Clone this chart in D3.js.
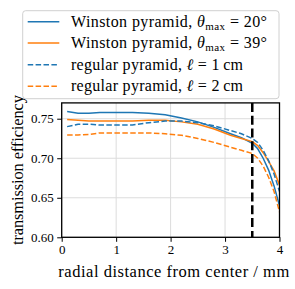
<!DOCTYPE html>
<html><head><meta charset="utf-8">
<script src="https://cdn.jsdelivr.net/npm/d3@7"></script>
<style>body{margin:0;background:#fff}svg{display:block}</style>
</head><body>
<script>
const xs = [0.1, 0.3, 0.5, 0.7, 1.0, 1.3, 1.6, 1.9, 2.2, 2.5, 2.8, 3.1, 3.3, 3.5, 3.6, 3.7, 3.8, 3.9, 4.0];
const winston20 = [0.759, 0.757, 0.757, 0.758, 0.758, 0.758, 0.757, 0.755, 0.751, 0.746, 0.739, 0.731, 0.726, 0.719, 0.712, 0.700, 0.685, 0.665, 0.640];
const winston39 = [0.749, 0.748, 0.747, 0.747, 0.747, 0.747, 0.748, 0.748, 0.746, 0.743, 0.737, 0.729, 0.725, 0.721, 0.716, 0.707, 0.696, 0.684, 0.666];
const regular1 = [0.740, 0.743, 0.743, 0.742, 0.742, 0.742, 0.745, 0.747, 0.747, 0.745, 0.741, 0.735, 0.731, 0.725, 0.720, 0.710, 0.697, 0.680, 0.658];
const regular2 = [0.7295, 0.7295, 0.730, 0.732, 0.732, 0.732, 0.732, 0.731, 0.729, 0.725, 0.720, 0.714, 0.710, 0.706, 0.700, 0.690, 0.676, 0.658, 0.632];
const xTicks = [0, 1, 2, 3, 4];
const yTicks = [0.60, 0.65, 0.70, 0.75];
const cutoff = 3.5;

const W = 295, H = 289;
const svg = d3.select("body").append("svg").attr("width", W).attr("height", H);
const font = "'Liberation Serif', serif";
const x = d3.scaleLinear().domain([0, 4]).range([61.7, 279.5]);
const y = d3.scaleLinear().domain([0.60, 0.77]).range([237.3, 102.9]);

// grid
const g = svg.append("g");
g.selectAll(".gx").data(xTicks).enter().append("line")
  .attr("x1", d => x(d)).attr("x2", d => x(d)).attr("y1", y(0.77)).attr("y2", y(0.6))
  .attr("stroke", "#dcdcdc").attr("stroke-width", 1);
g.selectAll(".gy").data(yTicks).enter().append("line")
  .attr("x1", x(0)).attr("x2", x(4)).attr("y1", d => y(d)).attr("y2", d => y(d))
  .attr("stroke", "#dcdcdc").attr("stroke-width", 1);

const series = [
  {v: winston20, c: "#1f77b4", dash: null},
  {v: winston39, c: "#ff7f0e", dash: null},
  {v: regular1, c: "#1f77b4", dash: "5.5,2.4"},
  {v: regular2, c: "#ff7f0e", dash: "5.5,2.4"}
];
const clip = svg.append("clipPath").attr("id", "c").append("rect")
  .attr("x", x(0)).attr("y", y(0.77)).attr("width", x(4) - x(0)).attr("height", y(0.6) - y(0.77));
const line = d3.line().x((d, i) => x(xs[i])).y(d => y(d));
const pg = svg.append("g").attr("clip-path", "url(#c)");
series.forEach(s => {
  pg.append("path").attr("d", line(s.v)).attr("fill", "none").attr("stroke", s.c)
    .attr("stroke-width", 1.5).attr("stroke-dasharray", s.dash);
});
pg.append("line").attr("x1", x(cutoff)).attr("x2", x(cutoff)).attr("y1", y(0.77)).attr("y2", y(0.6))
  .attr("stroke", "#000").attr("stroke-width", 2.5).attr("stroke-dasharray", "9,3.8");

// axes
const xa = svg.append("g").attr("transform", `translate(0,${y(0.6)})`)
  .call(d3.axisBottom(x).tickValues(xTicks).tickFormat(d3.format("d")).tickSize(4.5).tickPadding(3));
const ya = svg.append("g").attr("transform", `translate(${x(0)},0)`)
  .call(d3.axisLeft(y).tickValues(yTicks).tickFormat(d3.format(".2f")).tickSize(4.5).tickPadding(3.5));
[xa, ya].forEach(a => {
  a.select(".domain").remove();
  a.selectAll("line").attr("stroke", "#000").attr("stroke-width", 1);
  a.selectAll("text").attr("font-family", font).attr("font-size", 13).attr("fill", "#000");
});
// spines
svg.append("rect").attr("x", x(0)).attr("y", y(0.77)).attr("width", x(4) - x(0)).attr("height", y(0.6) - y(0.77))
  .attr("fill", "none").attr("stroke", "#000").attr("stroke-width", 1.3);

svg.append("text").attr("x", 58.3).attr("y", 277)
  .attr("textLength", 231).attr("lengthAdjust", "spacing")
  .attr("font-family", font).attr("font-size", 16.5).text("radial distance from center / mm");
svg.append("text").attr("transform", `translate(23,245) rotate(-90)`)
  .attr("textLength", 150).attr("lengthAdjust", "spacing")
  .attr("font-family", font).attr("font-size", 16.5).text("transmission efficiency");

// legend
const lg = svg.append("g");
lg.append("rect").attr("x", 22.7).attr("y", 10.7).attr("width", 256.3).attr("height", 88)
  .attr("rx", 3).attr("fill", "#fff").attr("fill-opacity", 0.85).attr("stroke", "#d0d0d0").attr("stroke-width", 1);
const rows = [21.7, 42.9, 64.8, 86.2];
const widths = [196, 196, 172, 172];
const labels = [
  {pre: "Winston pyramid, ", sym: "θ", sub: "max", post: " = 20°"},
  {pre: "Winston pyramid, ", sym: "θ", sub: "max", post: " = 39°"},
  {pre: "regular pyramid, ", sym: "ℓ", sub: null, post: " = 1\u2009cm"},
  {pre: "regular pyramid, ", sym: "ℓ", sub: null, post: " = 2\u2009cm"}
];
series.forEach((s, i) => {
  lg.append("line").attr("x1", 27.7).attr("x2", 59.3).attr("y1", rows[i]).attr("y2", rows[i])
    .attr("stroke", s.c).attr("stroke-width", 1.5).attr("stroke-dasharray", s.dash);
  const t = lg.append("text").attr("x", 71).attr("y", rows[i] + 5)
    .attr("textLength", widths[i]).attr("lengthAdjust", "spacing")
    .attr("font-family", font).attr("font-size", 16);
  const L = labels[i];
  t.append("tspan").text(L.pre);
  t.append("tspan").attr("font-style", "italic").text(L.sym);
  if (L.sub) {
    t.append("tspan").attr("font-size", 11).attr("dy", 3).text(L.sub);
    t.append("tspan").attr("dy", -3).text(L.post);
  } else {
    t.append("tspan").text(L.post);
  }
});
</script>
</body></html>
